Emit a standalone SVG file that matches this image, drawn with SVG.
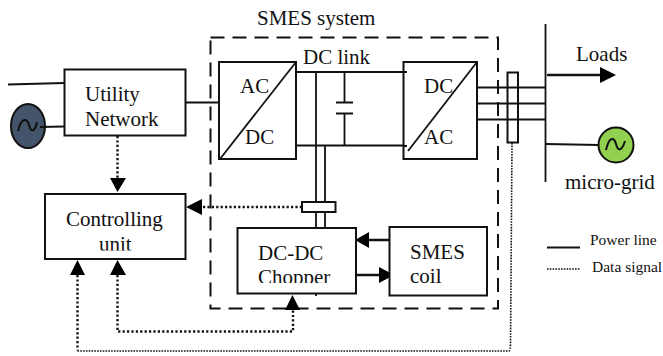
<svg xmlns="http://www.w3.org/2000/svg" width="663" height="356" viewBox="0 0 663 356">
<style>
text{font-family:"Liberation Serif","Times New Roman",serif;font-size:21px;fill:#111}
.b{fill:#fff;stroke:#111;stroke-width:2}
.l{fill:none;stroke:#111;stroke-width:1.8}
.t{fill:none;stroke:#111;stroke-width:2.6}
.d{fill:none;stroke:#111;stroke-width:2.4;stroke-dasharray:2.2 2.2}
.f{fill:none;stroke:#111;stroke-width:1.6;stroke-dasharray:1.6 1.2}
.h{fill:#000}
.s{font-size:15.500px}
</style>
<defs>
<clipPath id="c1"><rect x="0" y="200" width="663" height="50.500"/></clipPath>
<clipPath id="c2"><rect x="0" y="250" width="663" height="33"/></clipPath>
</defs>
<g id="smes-system">
<rect x="210.500" y="37.500" width="287.500" height="271" fill="none" stroke="#111" stroke-width="2" stroke-dasharray="14 8"/>
<text x="257" y="25">SMES system</text>
<text x="303" y="64">DC link</text>
</g>
<g id="generator">
<ellipse cx="28" cy="126" rx="17" ry="22" fill="#44546a" stroke="#111" stroke-width="2"/>
<path d="M18 131C21 118 27 117 29 125C31 133 35 132 37 122" fill="none" stroke="#111" stroke-width="2"/>
</g>
<g id="connectors">
<path class="l" d="M8 84.500L64 83M40 127L64 126.500M186 102.500H219"/>
<path class="l" d="M296 72H407M296 145.500H407M316 72V296M325 145.500V228"/>
<path class="l" d="M344.500 72V102.500M336 102.500H353M336 113.500H353M344.500 113.500V146"/>
<path class="l" d="M477 87.500H545M477 103.500H545M477 119.500H545M546 144L599 145"/>
<path class="l" d="M545.500 24V182"/>
<path class="t" d="M547 75H602"/>
<path class="h" d="M600 67L616 75L600 83Z"/>
<path class="t" d="M389 240H366M357 275H382"/>
<path class="h" d="M355 240L369 232V248ZM394 275L379 267V283Z"/>
<path class="d" d="M117.500 136V178M302 207H200"/>
<path class="d" d="M117.500 275V331.500H293V310M77.500 275V350.500"/>
<path class="f" d="M77.500 351H509Q510 351 510.500 345L512 143"/>
<path class="h" d="M110 178H126L117.500 192ZM186 207L202 199V215ZM110 275H126L117.500 260ZM70 275H85L77.500 260ZM285 310H300L292.500 295Z"/>
</g>
<g id="utility-network">
<rect class="b" x="64.500" y="69.500" width="121" height="66"/>
<text x="85" y="101">Utility</text>
<text x="85" y="126">Network</text>
</g>
<g id="ac-dc">
<rect class="b" x="219" y="62" width="77" height="97"/>
<path class="l" d="M220 159L296 62" stroke-width="2"/>
<text x="240" y="93">AC</text>
<text x="245" y="144">DC</text>
</g>
<g id="dc-ac">
<rect class="b" x="403.500" y="62" width="73.500" height="97"/>
<path class="l" d="M408 151L477 62" stroke-width="2"/>
<text x="424" y="93">DC</text>
<text x="424" y="144">AC</text>
<path class="l" d="M403.500 72H407M403.500 146H407"/>
</g>
<g id="ac-sensor">
<rect x="507.500" y="72.500" width="10.500" height="70" fill="none" stroke="#111" stroke-width="2"/>
</g>
<g id="dc-sensor">
<rect class="b" x="302" y="202" width="33.500" height="10"/>
</g>
<g id="controlling-unit">
<rect class="b" x="45" y="194" width="140.500" height="65"/>
<text x="66" y="226">Controlling</text>
<text x="99" y="251" clip-path="url(#c1)">unit</text>
</g>
<g id="dc-dc-chopper">
<rect class="b" x="237.500" y="228" width="118.500" height="65.500"/>
<text x="258" y="260">DC-DC</text>
<text x="258" y="284" clip-path="url(#c2)">Chopper</text>
</g>
<g id="smes-coil">
<rect class="b" x="389.500" y="227" width="97.500" height="68.500"/>
<text x="410" y="259">SMES</text>
<text x="410" y="283">coil</text>
</g>
<g id="loads"><text x="576" y="61">Loads</text></g>
<g id="micro-grid">
<circle cx="616" cy="145" r="17.500" fill="#92d050" stroke="#111" stroke-width="2"/>
<path d="M606 150C609 137 614 136 616 144C618 152 622 151 625 141" fill="none" stroke="#111" stroke-width="2"/>
<text x="565" y="189">micro-grid</text>
</g>
<g id="legend">
<path class="l" d="M547 247.500H580"/>
<path class="f" d="M547 269H580"/>
<text x="590" y="245" class="s">Power line</text>
<text x="592" y="272" class="s">Data signal</text>
</g>
</svg>
